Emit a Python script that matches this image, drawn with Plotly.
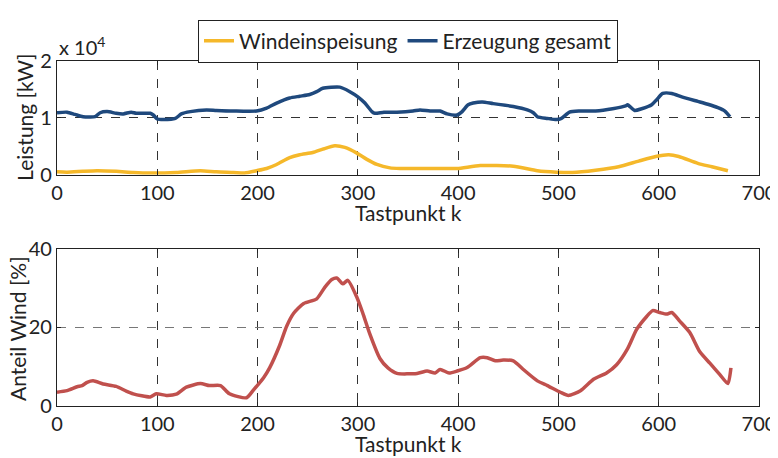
import plotly.graph_objects as go
from plotly.subplots import make_subplots

# Top panel: power in units of 1e4 kW
k_total = [0, 10, 18, 26, 38, 43, 50, 59, 66, 74, 79, 93, 96, 100, 106, 118, 124, 133, 149, 159, 176, 199, 209, 219, 232, 242, 252, 259, 265, 282, 292, 300, 307, 314, 317, 326, 339, 355, 362, 372, 382, 389, 399, 404, 410, 415, 424, 435, 455, 469, 475, 479, 489, 498, 503, 511, 521, 537, 554, 567, 569, 576, 583, 593, 598, 604, 613, 623, 639, 649, 659, 666, 671]
p_total = [1.09, 1.10, 1.06, 1.02, 1.02, 1.09, 1.11, 1.08, 1.07, 1.10, 1.08, 1.08, 1.05, 0.98, 0.97, 0.99, 1.07, 1.11, 1.14, 1.13, 1.12, 1.12, 1.17, 1.26, 1.35, 1.38, 1.41, 1.46, 1.52, 1.54, 1.46, 1.37, 1.26, 1.11, 1.08, 1.10, 1.10, 1.12, 1.14, 1.12, 1.12, 1.07, 1.05, 1.11, 1.23, 1.26, 1.28, 1.25, 1.20, 1.14, 1.09, 1.02, 0.99, 0.97, 0.99, 1.10, 1.12, 1.12, 1.16, 1.21, 1.23, 1.13, 1.16, 1.23, 1.32, 1.43, 1.43, 1.37, 1.29, 1.24, 1.18, 1.12, 1.02]

k_wind = [0, 10, 26, 40, 59, 76, 93, 119, 143, 159, 176, 187, 199, 209, 219, 232, 242, 255, 265, 277, 287, 299, 309, 319, 332, 342, 360, 382, 399, 422, 455, 479, 498, 514, 537, 560, 580, 597, 610, 620, 639, 653, 669]
p_wind = [0.05, 0.045, 0.06, 0.07, 0.06, 0.04, 0.03, 0.04, 0.07, 0.05, 0.04, 0.03, 0.07, 0.11, 0.18, 0.30, 0.35, 0.39, 0.45, 0.51, 0.48, 0.38, 0.27, 0.18, 0.12, 0.11, 0.11, 0.11, 0.11, 0.16, 0.15, 0.07, 0.045, 0.04, 0.08, 0.14, 0.24, 0.32, 0.35, 0.32, 0.20, 0.14, 0.07]

# Bottom panel: wind share in %
k_share = [0, 10, 20, 25, 30, 36, 46, 59, 69, 76, 93, 99, 109, 119, 129, 143, 152, 163, 172, 189, 196, 206, 212, 222, 229, 236, 246, 259, 267, 274, 279, 285, 290, 299, 305, 312, 322, 330, 339, 359, 369, 377, 382, 391, 399, 409, 422, 429, 437, 445, 455, 465, 479, 489, 502, 510, 522, 535, 548, 558, 569, 578, 588, 594, 601, 608, 613, 621, 631, 641, 651, 661, 669, 672]
share = [3.5, 3.9, 4.9, 5.2, 6.0, 6.4, 5.6, 5.0, 3.8, 3.1, 2.3, 3.1, 2.7, 3.0, 4.8, 5.7, 5.2, 5.2, 3.1, 2.1, 4.1, 7.2, 9.7, 15.4, 20.3, 23.6, 26.1, 27.3, 30.2, 32.2, 32.6, 31.1, 32.0, 27.7, 23.6, 18.3, 12.1, 9.7, 8.3, 8.3, 8.9, 8.4, 9.3, 8.4, 8.9, 9.8, 12.3, 12.3, 11.5, 11.7, 11.5, 9.3, 6.4, 5.2, 3.5, 2.7, 3.9, 6.8, 8.4, 10.5, 14.6, 19.5, 22.8, 24.3, 23.8, 23.4, 23.8, 21.6, 18.7, 13.8, 10.9, 8.0, 5.7, 9.7]

x_ticks = [0, 100, 200, 300, 400, 500, 600, 700]
top_ticks = [0, 1, 2]
bottom_ticks = [0, 20, 40]

FONT = "Lato"
YELLOW = "#F5B82A"
BLUE = "#1F497D"
RED = "#C0504D"
TXT = "#222"

fig = make_subplots(rows=2, cols=1)

fig.add_trace(go.Scatter(x=k_wind, y=p_wind, mode="lines", name="Windeinspeisung",
                         line=dict(color=YELLOW, width=3.5, shape="spline", smoothing=0.6)), row=1, col=1)
fig.add_trace(go.Scatter(x=k_total, y=p_total, mode="lines", name="Erzeugung gesamt",
                         line=dict(color=BLUE, width=3.5, shape="spline", smoothing=0.6)), row=1, col=1)
fig.add_trace(go.Scatter(x=k_share, y=share, mode="lines", showlegend=False,
                         line=dict(color=RED, width=3.5, shape="spline", smoothing=0.6)), row=2, col=1)

axis_common = dict(showline=True, linecolor=TXT, linewidth=1.2, mirror="ticks",
                   ticks="inside", ticklen=4, tickcolor=TXT, automargin=False,
                   showgrid=True, gridcolor="#333", griddash="dash", gridwidth=0.8,
                   zeroline=False, tickfont=dict(family=FONT, size=20, color=TXT))

for r in (1, 2):
    fig.update_xaxes(range=[0, 700], tickvals=x_ticks, row=r, col=1, **axis_common)

fig.update_yaxes(range=[0, 2], tickvals=top_ticks, row=1, col=1, **axis_common)
fig.update_yaxes(range=[0, 40], tickvals=bottom_ticks, row=2, col=1,
                 **{**axis_common, "gridcolor": "#777"})
fig.update_layout(yaxis=dict(domain=[0.6704, 1.0]), yaxis2=dict(domain=[0.0, 0.4553]))

title_font = dict(family=FONT, size=21, color=TXT)
# axis titles as paper-positioned texts
fig.add_annotation(text="Tastpunkt k", xref="paper", yref="paper", x=0.5, y=0.562,
                   xanchor="center", yanchor="middle", showarrow=False, font=title_font)
fig.add_annotation(text="Tastpunkt k", xref="paper", yref="paper", x=0.5, y=-0.11,
                   xanchor="center", yanchor="middle", showarrow=False, font=title_font)
fig.add_annotation(text="Leistung [kW]", xref="paper", yref="paper", x=-0.0456, y=0.838,
                   xanchor="center", yanchor="middle", textangle=-90, showarrow=False, font=title_font)
fig.add_annotation(text="Anteil Wind [%]", xref="paper", yref="paper", x=-0.057, y=0.226,
                   xanchor="center", yanchor="middle", textangle=-90, showarrow=False, font=title_font)

fig.add_annotation(text="x 10<sup>4</sup>", xref="paper", yref="paper", x=0.0, y=1.0,
                   xanchor="left", yanchor="bottom", showarrow=False,
                   font=dict(family=FONT, size=20, color=TXT))

# page body adds an 8px offset, so the figure is sized 770x450 to fill the 778x458 window
fig.update_layout(
    width=770, height=450,
    margin=dict(l=49, r=19, t=40, b=52),
    paper_bgcolor="white", plot_bgcolor="white",
    legend=dict(orientation="h", x=0.5, xanchor="center", y=1.12, yanchor="top",
                bordercolor=TXT, borderwidth=1, bgcolor="white",
                font=dict(family=FONT, size=21, color=TXT),
                itemwidth=30, tracegroupgap=0),
)

fig.write_html("out.html")
